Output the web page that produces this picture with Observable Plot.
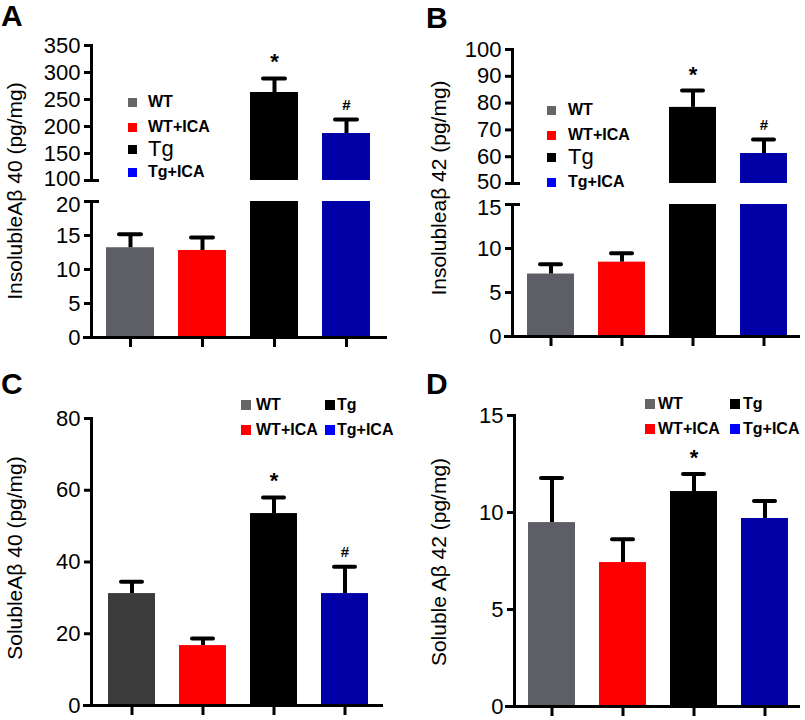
<!DOCTYPE html>
<html><head><meta charset="utf-8">
<script src="https://cdn.jsdelivr.net/npm/d3@7"></script>
<script src="https://cdn.jsdelivr.net/npm/@observablehq/plot@0.6"></script>
<style>
body{margin:0;background:#fff;font-family:"Liberation Sans",Arial,Helvetica,sans-serif;color:#000}
#fig{position:relative;width:805px;height:720px;overflow:hidden;background:#fff}
.panel{position:absolute;width:400px;height:360px}
.panel svg{position:absolute;left:0;top:0}
.letter{position:absolute;font-weight:bold;font-size:30px;line-height:1}
.ylab{position:absolute;font-size:21px;line-height:1;white-space:nowrap;transform:translate(-50%,-50%) rotate(-90deg)}
.leg{position:absolute;font-size:16px;font-weight:bold;display:flex;align-items:center;white-space:nowrap;height:22px;line-height:1}
.leg.big{font-size:22px;font-weight:normal}
.sw{display:inline-block;flex:none}
</style>
</head><body>
<div id="fig"></div>
<script>
// ---- data ----
const groups = ["WT", "WT+ICA", "Tg", "Tg+ICA"];
const barColors = ["#5e5e66", "#ff0000", "#000000", "#0000a6"];
const barColorsC = ["#3c3c3c", "#ff0000", "#000000", "#0000a6"];
const legendColors = ["#666666", "#ff0000", "#000000", "#0000ff"];

const insolA40Mean = [13.2, 12.8, 263, 187];
const insolA40Sem = [2.0, 1.9, 26, 26];
const insolA42Mean = [7.1, 8.45, 78.4, 61.2];
const insolA42Sem = [1.1, 1.0, 6.3, 5.2];
const solA40Mean = [31.2, 16.7, 53.5, 31.2];
const solA40Sem = [3.3, 2.0, 4.5, 7.5];
const solA42Mean = [9.48, 7.42, 11.08, 9.69];
const solA42Sem = [2.3, 1.2, 0.9, 0.9];

const sigA = ["", "", "*", "#"];
const sigB = ["", "", "*", "#"];
const sigC = ["", "", "*", "#"];
const sigD = ["", "", "*", ""];

const ticksAUpper = [100, 150, 200, 250, 300, 350];
const ticksALower = [0, 5, 10, 15, 20];
const ticksBUpper = [50, 60, 70, 80, 90, 100];
const ticksBLower = [0, 5, 10, 15];
const ticksC = [0, 20, 40, 60, 80];
const ticksD = [0, 5, 10, 15];

const labelA = "InsolubleAβ 40 (pg/mg)";
const labelB = "Insolubleaβ 42 (pg/mg)";
const labelC = "SolubleAβ 40 (pg/mg)";
const labelD = "Soluble Aβ 42 (pg/mg)";

function rowsOf(means, sems, sig) {
  return groups.map((g, i) => ({group: g, mean: means[i], sem: sems[i], top: means[i] + sems[i], sig: sig[i]}));
}

const W = 400, H = 360;
const FONT = "Liberation Sans, Arial, Helvetica, sans-serif";

// one y-segment of a panel
function segment(o) {
  const {rows, colors, domain, ticks, breakTick, breakDy, mt, mb, ml, mr, axisDx, xRange, showX} = o;
  const frameW = W - ml - mr;
  const inDom = d => d.top >= domain[0] && d.top <= domain[1];
  const mainTicks = ticks.filter(t => t !== breakTick);
  const axisOpts = {tickSize: 7, tickPadding: 4, strokeWidth: 3, fontSize: 22, dx: axisDx, label: null, tickFormat: d => String(d)};
  const marks = [
    Plot.barY(rows, {x: "group", y: "mean", fill: "group", clip: true}),
    Plot.ruleX(rows, {x: "group", y1: "mean", y2: "top", stroke: "#000", strokeWidth: 4, clip: true}),
    Plot.tickY(rows, {x: "group", y: "top", stroke: "#000", strokeWidth: 4, strokeLinecap: "round", insetLeft: 13, insetRight: 13, clip: true}),
    Plot.text(rows.filter(d => d.sig === "*" && inDom(d)), {x: "group", y: "top", text: "sig", dy: -16, fontSize: 22, fontWeight: "bold"}),
    Plot.text(rows.filter(d => d.sig === "#" && inDom(d)), {x: "group", y: "top", text: "sig", dy: -14, fontSize: 15, fontWeight: "bold"}),
    Plot.frame({anchor: "left", strokeWidth: 3, dx: axisDx}),
    Plot.axisY({...axisOpts, ticks: mainTicks})
  ];
  if (breakTick !== undefined) {
    // tick + label at the break (label nudged so it does not collide with the other segment)
    marks.push(Plot.axisY({...axisOpts, ticks: [breakTick], tickSize: 0, tickPadding: 11, dy: breakDy}));
    marks.push(Plot.axisY({...axisOpts, ticks: [breakTick], tickFormat: () => ""}));
    marks.push(Plot.axisY({anchor: "right", ticks: [breakTick], tickSize: 7, strokeWidth: 3, tickFormat: () => "", label: null, dx: -frameW + axisDx}));
  }
  if (showX) {
    marks.push(Plot.ruleY([domain[0]], {strokeWidth: 3}));
    marks.push(Plot.axisX({tickSize: 10, strokeWidth: 3, tickFormat: () => "", label: null}));
  }
  return Plot.plot({
    width: W, height: H,
    marginLeft: ml, marginRight: mr, marginTop: mt, marginBottom: mb,
    style: {background: "transparent", overflow: "visible", fontFamily: FONT, color: "#000"},
    x: {type: "band", domain: groups, range: xRange, paddingInner: 0.34, paddingOuter: 0.3, axis: showX ? undefined : null, label: null},
    y: {domain, label: null},
    color: {domain: groups, range: colors},
    marks
  });
}

const fig = document.getElementById("fig");

function addPanel(p) {
  const div = document.createElement("div");
  div.className = "panel";
  div.style.left = p.left + "px";
  div.style.top = p.top + "px";
  fig.appendChild(div);
  for (const s of p.segments) div.appendChild(segment(s));
  const L = document.createElement("div");
  L.className = "letter"; L.textContent = p.letter;
  L.style.left = p.letterPos[0] + "px"; L.style.top = p.letterPos[1] + "px";
  div.appendChild(L);
  const Y = document.createElement("div");
  Y.className = "ylab"; Y.textContent = p.ylabel;
  Y.style.left = p.ylabPos[0] + "px"; Y.style.top = p.ylabPos[1] + "px";
  div.appendChild(Y);
  p.legend.forEach(it => {
    const e = document.createElement("div");
    e.className = "leg" + (it.big ? " big" : "");
    e.style.left = it.x + "px"; e.style.top = (it.y - 11) + "px";
    const sw = document.createElement("span");
    sw.className = "sw";
    sw.style.width = p.sw + "px"; sw.style.height = p.sw + "px";
    sw.style.background = legendColors[groups.indexOf(it.g)];
    sw.style.marginRight = it.gap + "px";
    e.appendChild(sw);
    e.appendChild(document.createTextNode(it.g));
    div.appendChild(e);
  });
}

// Panel A
const rowsA = rowsOf(insolA40Mean, insolA40Sem, sigA);
addPanel({
  left: 0, top: 0, letter: "A", letterPos: [1, 1], ylabel: labelA, ylabPos: [14, 191], sw: 9,
  legend: [
    {g: "WT", x: 128, y: 102, gap: 11}, {g: "WT+ICA", x: 128, y: 127, gap: 11},
    {g: "Tg", x: 128, y: 149, gap: 11, big: true}, {g: "Tg+ICA", x: 128, y: 172, gap: 11}
  ],
  segments: [
    {rows: rowsA, colors: barColors, domain: [100, 350], ticks: ticksAUpper, breakTick: 100, breakDy: -2, mt: 45, mb: H - 180, ml: 83, mr: 13, axisDx: 8, xRange: [83, 392], showX: false},
    {rows: rowsA, colors: barColors, domain: [0, 20], ticks: ticksALower, breakTick: 20, breakDy: 3, mt: 201, mb: H - 337, ml: 83, mr: 13, axisDx: 8, xRange: [83, 392], showX: true}
  ]
});

// Panel B
const rowsB = rowsOf(insolA42Mean, insolA42Sem, sigB);
addPanel({
  left: 400, top: 0, letter: "B", letterPos: [26, 3], ylabel: labelB, ylabPos: [38, 188], sw: 9,
  legend: [
    {g: "WT", x: 147, y: 110, gap: 12}, {g: "WT+ICA", x: 147, y: 135, gap: 12},
    {g: "Tg", x: 147, y: 157, gap: 12, big: true}, {g: "Tg+ICA", x: 147, y: 182, gap: 12}
  ],
  segments: [
    {rows: rowsB, colors: barColors, domain: [50, 100], ticks: ticksBUpper, breakTick: 50, breakDy: -2, mt: 49, mb: H - 183, ml: 104, mr: 0, axisDx: 8, xRange: [103.5, 409.5], showX: false},
    {rows: rowsB, colors: barColors, domain: [0, 15], ticks: ticksBLower, breakTick: 15, breakDy: 3, mt: 204, mb: H - 336, ml: 104, mr: 0, axisDx: 8, xRange: [103.5, 409.5], showX: true}
  ]
});

// Panel C
const rowsC = rowsOf(solA40Mean, solA40Sem, sigC);
addPanel({
  left: 0, top: 360, letter: "C", letterPos: [1, 9], ylabel: labelC, ylabPos: [14, 198], sw: 10,
  legend: [
    {g: "WT", x: 241, y: 45, gap: 5}, {g: "Tg", x: 325, y: 45, gap: 2},
    {g: "WT+ICA", x: 241, y: 70, gap: 5}, {g: "Tg+ICA", x: 325, y: 70, gap: 2}
  ],
  segments: [
    {rows: rowsC, colors: barColorsC, domain: [0, 80], ticks: ticksC, mt: 58, mb: H - 345, ml: 83, mr: 17, axisDx: 8, xRange: [84.4, 391], showX: true}
  ]
});

// Panel D
const rowsD = rowsOf(solA42Mean, solA42Sem, sigD);
addPanel({
  left: 400, top: 360, letter: "D", letterPos: [26, 9], ylabel: labelD, ylabPos: [38, 202], sw: 10,
  legend: [
    {g: "WT", x: 245, y: 44, gap: 3}, {g: "Tg", x: 330, y: 44, gap: 3},
    {g: "WT+ICA", x: 245, y: 69, gap: 3}, {g: "Tg+ICA", x: 330, y: 69, gap: 3}
  ],
  segments: [
    {rows: rowsD, colors: barColors, domain: [0, 15], ticks: ticksD, mt: 55, mb: H - 346, ml: 105, mr: 0, axisDx: 9, xRange: [104.4, 411], showX: true}
  ]
});
</script>
</body></html>
